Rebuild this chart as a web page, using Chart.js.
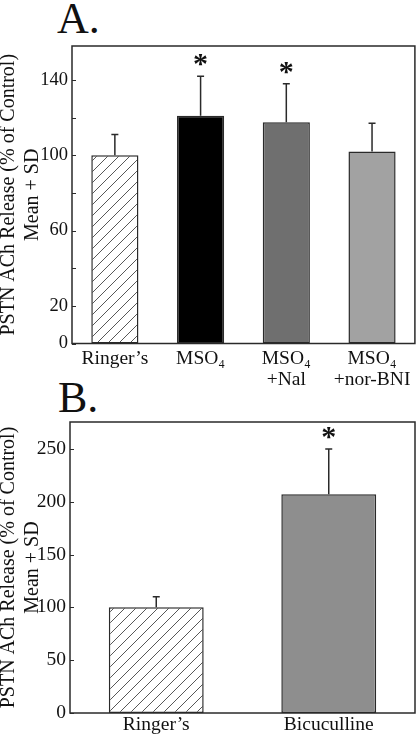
<!DOCTYPE html>
<html>
<head>
<meta charset="utf-8">
<script src="https://cdn.jsdelivr.net/npm/chart.js@4.4.0/dist/chart.umd.min.js"></script>
<style>
  html, body { margin: 0; padding: 0; background: #fff; width: 416px; height: 737px; overflow: hidden; }
  .panel { position: absolute; left: 0; }
  .lbl { position: absolute; font-family: 'Liberation Serif', 'Times New Roman', serif; font-size: 44px; line-height: 44px; color: #111; }
</style>
</head>
<body>
<div class="lbl" style="left:57px; top:-3px;">A.</div>
<div class="lbl" style="left:58px; top:376px;">B.</div>
<canvas id="chartA" class="panel" style="top:0px;" width="416" height="400"></canvas>
<canvas id="chartB" class="panel" style="top:370px;" width="416" height="367"></canvas>
<script>
// ---- Panel A data ----
const categoriesA = ["Ringer’s", "MSO₄", ["MSO₄", "+Nal"], ["MSO₄", "+nor-BNI"]];
const meansA = [100, 121, 117.5, 102];
const sdA = [11, 21, 20.5, 15];
const sigA = [false, true, true, false];
const tickValuesA = [0, 20, 40, 60, 80, 100, 120, 140];
const tickLabelsA = [0, 20, 60, 100, 140];
const yMaxA = 158;

// ---- Panel B data ----
const categoriesB = ["Ringer’s", "Bicuculline"];
const meansB = [100, 207];
const sdB = [10, 43];
const sigB = [false, true];
const tickValuesB = [0, 50, 100, 150, 200, 250];
const tickLabelsB = [0, 50, 100, 150, 200, 250];
const yMaxB = 275.5;

const yTitle = ["PSTN ACh Release (% of Control)", "Mean + SD"];
const SERIF = "'Liberation Serif', 'Times New Roman', serif";

function hatch(ctx, s) {
  const c = document.createElement('canvas');
  c.width = s; c.height = s;
  const g = c.getContext('2d');
  g.fillStyle = '#fff'; g.fillRect(0, 0, s, s);
  g.strokeStyle = '#444'; g.lineWidth = 0.9;
  g.beginPath();
  g.moveTo(0, s); g.lineTo(s, 0);
  g.moveTo(-2, 2); g.lineTo(2, -2);
  g.moveTo(s - 2, s + 2); g.lineTo(s + 2, s - 2);
  g.stroke();
  return ctx.createPattern(c, 'repeat');
}

const extras = {
  id: 'extras',
  afterDatasetsDraw(chart, args, o) {
    const { ctx, chartArea: a, scales: { y } } = chart;
    const meta = chart.getDatasetMeta(0);
    ctx.save();
    ctx.strokeStyle = '#2a2a2a';
    ctx.lineWidth = 1.5;
    o.sd.forEach((s, i) => {
      const bx = meta.data[i].x;
      const yTop = y.getPixelForValue(o.means[i]);
      const yErr = y.getPixelForValue(o.means[i] + s);
      ctx.beginPath();
      ctx.moveTo(bx, yTop); ctx.lineTo(bx, yErr);
      ctx.moveTo(bx - 3.5, yErr); ctx.lineTo(bx + 3.5, yErr);
      ctx.stroke();
      if (o.sig[i]) {
        ctx.fillStyle = '#111';
        ctx.font = 'bold 30px ' + SERIF;
        ctx.textAlign = 'center';
        ctx.textBaseline = 'alphabetic';
        ctx.fillText('*', bx, yErr - 3);
      }
    });
    // frame
    ctx.strokeRect(a.left, a.top, a.right - a.left, a.bottom - a.top);
    // inward y ticks
    ctx.lineWidth = 1;
    y.ticks.forEach(t => {
      const py = Math.round(y.getPixelForValue(t.value)) + 0.5;
      ctx.beginPath(); ctx.moveTo(a.left, py); ctx.lineTo(a.left + 4, py); ctx.stroke();
    });
    ctx.restore();
  }
};

function makeChart(id, cats, means, sd, sig, colors, tickVals, tickLbls, yMax, g) {
  const cv = document.getElementById(id);
  const ctx = cv.getContext('2d');
  const bg = colors.map(c => c === 'hatch' ? hatch(ctx, 11) : c);
  return new Chart(ctx, {
    type: 'bar',
    data: {
      labels: cats,
      datasets: [{
        data: means,
        backgroundColor: bg,
        borderColor: '#2a2a2a',
        borderWidth: 1.5,
        borderSkipped: false,
        barPercentage: 0.55,
        categoryPercentage: 1.0
      }]
    },
    options: {
      responsive: false,
      animation: false,
      devicePixelRatio: 1,
      layout: { padding: { top: g.top, right: 1, left: 0, bottom: 0 } },
      plugins: { legend: { display: false }, tooltip: { enabled: false }, extras: { means, sd, sig } },
      scales: {
        x: {
          type: 'category',
          offset: true,
          grid: { display: false, drawTicks: false },
          border: { display: false },
          ticks: {
            color: '#111',
            font: { family: SERIF, size: 19.5, lineHeight: 1.05 },
            padding: g.xPad,
            maxRotation: 0, autoSkip: false
          },
          afterFit: s => { s.height = g.xH; }
        },
        y: {
          min: 0, max: yMax,
          grid: { display: false, drawTicks: false },
          border: { display: false },
          afterBuildTicks: s => { s.ticks = tickVals.map(v => ({ value: v })); },
          ticks: {
            color: '#111',
            font: { family: SERIF, size: g.tickSize },
            padding: 4,
            callback: v => tickLbls.includes(v) ? String(v) : ''
          },
          title: {
            display: true,
            text: yTitle,
            color: '#111',
            font: { family: SERIF, size: 20, lineHeight: 1.2 },
            padding: { top: -3, bottom: 0 }
          },
          afterFit: s => { s.width = g.yW; }
        }
      }
    },
    plugins: [extras]
  });
}

makeChart('chartA', categoriesA, meansA, sdA, sigA,
  ['hatch', '#000000', '#6f6f6f', '#a2a2a2'],
  tickValuesA, tickLabelsA, yMaxA, { top: 46, xH: 56.5, xPad: 5.5, yW: 72, tickSize: 18.5 });

makeChart('chartB', categoriesB, meansB, sdB, sigB,
  ['hatch', '#8e8e8e'],
  tickValuesB, tickLabelsB, yMaxB, { top: 52, xH: 24, xPad: 2, yW: 70, tickSize: 19.5 });
</script>
</body>
</html>
